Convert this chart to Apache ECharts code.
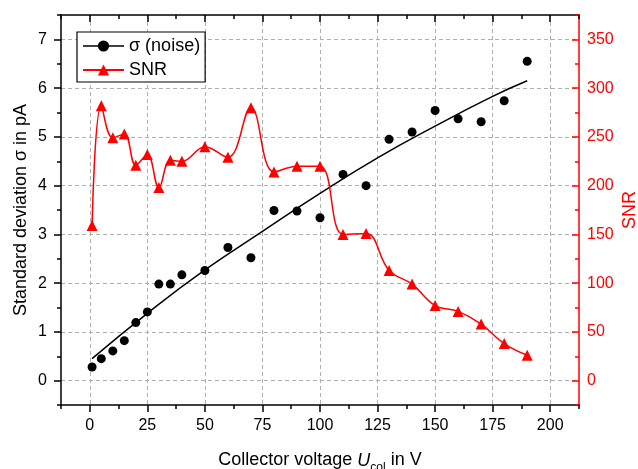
<!DOCTYPE html>
<html><head><meta charset="utf-8">
<script src="https://cdn.jsdelivr.net/npm/echarts@6/dist/echarts.min.js"></script>
<style>html,body{margin:0;padding:0;background:#fff}#c{width:638px;height:469px}</style>
</head><body><div id="c"></div>
<script>
// ---- data ----
const voltage = [1, 5, 10, 15, 20, 25, 30, 35, 40, 50, 60, 70, 80, 90, 100, 110, 120, 130, 140, 150, 160, 170, 180, 190];
const sigma   = [0.28, 0.45, 0.61, 0.82, 1.19, 1.41, 1.98, 1.98, 2.17, 2.26, 2.73, 2.52, 3.49, 3.48, 3.34, 4.23, 4.00, 4.95, 5.10, 5.54, 5.37, 5.31, 5.74, 6.55];
const snr     = [159, 282, 249, 253, 221, 232, 198, 226, 225, 240, 229, 280, 214, 220, 220, 150, 151, 113, 99, 77, 71, 58, 38, 26];
const fitVoltage = [1, 25, 50, 75, 100, 125, 150, 175, 190];
const fitSigma   = [0.45, 1.38, 2.27, 3.06, 3.84, 4.57, 5.22, 5.83, 6.15];
const xTickValues = [0, 25, 50, 75, 100, 125, 150, 175, 200];
const yLeftTickValues = [0, 1, 2, 3, 4, 5, 6, 7];
const yRightTickValues = [0, 50, 100, 150, 200, 250, 300, 350];

const FONT = 'Liberation Sans, Arial, sans-serif';
const RED = '#ff0000';
const BLACK = '#000000';

const chart = echarts.init(document.getElementById('c'), null, {renderer: 'canvas'});

function majorAxis(o) {
  return Object.assign({
    type: 'value',
    gridIndex: 0,
    nameMoveOverlap: false,
    axisLine: {show: true, onZero: false, lineStyle: {color: o.color, width: 1.5}},
    axisTick: {show: true, inside: o.inside, length: 7, customValues: o.ticks, lineStyle: {color: o.color, width: 1.5}},
    axisLabel: {show: o.labels, customValues: o.ticks, color: o.color, fontSize: 16, fontFamily: FONT, margin: o.margin},
    splitLine: {show: !!o.split, lineStyle: {color: '#b0b0b0', type: [4, 3], width: 1}},
    minorTick: {show: false},
    minorSplitLine: {show: false}
  }, o.extra || {});
}
function minorAxis(o) {
  return {
    type: 'value',
    gridIndex: 0,
    position: o.position,
    min: o.min, max: o.max, interval: o.interval,
    axisLine: {show: false, onZero: false},
    axisTick: {show: true, inside: o.inside, length: 4, lineStyle: {color: o.color, width: 1.5}},
    axisLabel: {show: false},
    splitLine: {show: false}
  };
}

const option = {
  animation: false,
  backgroundColor: '#ffffff',
  textStyle: {fontFamily: FONT},
  grid: {left: 61, right: 59, top: 15, bottom: 64, containLabel: false, outerBoundsMode: 'none'},
  legend: {
    left: 77, top: 32,
    orient: 'vertical',
    data: [
      {name: 'σ (noise)', lineStyle: {opacity: 1, width: 1.5, color: BLACK, type: 'solid'}},
      {name: 'SNR'}
    ],
    itemWidth: 41, itemHeight: 14, itemGap: 6,
    padding: [5, 5, 3, 5],
    borderColor: BLACK, borderWidth: 1.2, borderRadius: 0,
    backgroundColor: '#ffffff',
    textStyle: {fontSize: 18, color: BLACK, fontFamily: FONT}
  },
  xAxis: [
    majorAxis({color: BLACK, inside: false, ticks: xTickValues, labels: true, margin: 13, split: true,
      extra: {position: 'bottom', min: -12.5, max: 212.5, interval: 12.5,
        name: 'Collector voltage {i|U}{s|col} in V', nameLocation: 'middle', nameGap: 42,
        nameTextStyle: {fontSize: 18, color: BLACK, fontFamily: FONT,
          rich: {i: {fontStyle: 'italic', fontSize: 18, fontFamily: FONT, color: BLACK},
                 s: {fontSize: 12, fontFamily: FONT, color: BLACK, padding: [15, 0, 0, 0]}}}}}),
    minorAxis({position: 'bottom', min: -12.5, max: 212.5, interval: 12.5, inside: false, color: BLACK}),
    majorAxis({color: BLACK, inside: true, ticks: xTickValues, labels: false, margin: 8, split: false,
      extra: {position: 'top', min: -12.5, max: 212.5, interval: 12.5}}),
    minorAxis({position: 'top', min: -12.5, max: 212.5, interval: 12.5, inside: true, color: BLACK})
  ],
  yAxis: [
    majorAxis({color: BLACK, inside: false, ticks: yLeftTickValues, labels: true, margin: 14, split: true,
      extra: {position: 'left', min: -0.5, max: 7.5, interval: 0.5,
        name: 'Standard deviation σ in pA', nameLocation: 'middle', nameGap: 31,
        nameTextStyle: {fontSize: 18, color: BLACK, fontFamily: FONT}}}),
    minorAxis({position: 'left', min: -0.5, max: 7.5, interval: 0.5, inside: false, color: BLACK}),
    majorAxis({color: RED, inside: true, ticks: yRightTickValues, labels: true, margin: 8, split: false,
      extra: {position: 'right', min: -25, max: 375, interval: 25,
        name: 'SNR', nameLocation: 'middle', nameGap: 42,
        nameTextStyle: {fontSize: 18, color: RED, fontFamily: FONT}}}),
    minorAxis({position: 'right', min: -25, max: 375, interval: 25, inside: true, color: RED})
  ],
  series: [
    {
      name: 'fit', type: 'line', xAxisIndex: 0, yAxisIndex: 0,
      data: fitVoltage.map((v, i) => [v, fitSigma[i]]),
      smooth: true, showSymbol: false, symbol: 'none',
      lineStyle: {color: BLACK, width: 1.5}, z: 3, silent: true
    },
    {
      name: 'σ (noise)', type: 'line', xAxisIndex: 0, yAxisIndex: 0,
      data: voltage.map((v, i) => [v, sigma[i]]),
      symbol: 'circle', symbolSize: 9, showSymbol: true, showAllSymbol: true,
      itemStyle: {color: BLACK},
      lineStyle: {color: BLACK, width: 1.5, opacity: 0}, z: 4
    },
    {
      name: 'SNR', type: 'line', xAxisIndex: 0, yAxisIndex: 2,
      data: voltage.map((v, i) => [v, snr[i]]),
      smooth: 0.4,
      symbol: 'triangle', symbolSize: 11, showSymbol: true, showAllSymbol: true,
      itemStyle: {color: RED},
      lineStyle: {color: RED, width: 1.5}, z: 5
    }
  ]
};
chart.setOption(option);
</script>
</body></html>
